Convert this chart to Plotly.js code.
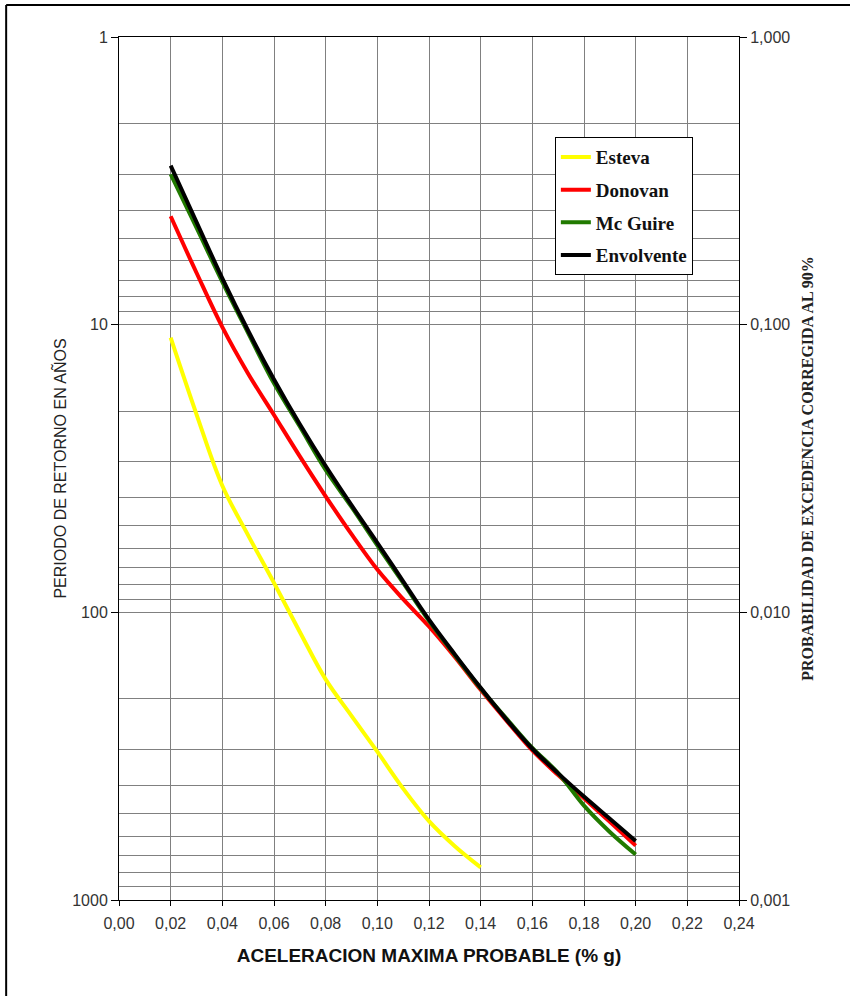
<!DOCTYPE html>
<html>
<head>
<meta charset="utf-8">
<script src="https://cdn.plot.ly/plotly-3.0.1.min.js"></script>
<style>html,body{margin:0;padding:0;background:#fff;}#chart{width:850px;height:996px;}</style>
</head>
<body>
<div id="chart"></div>
<script>
// Acceleration values (% g)
const accel = [0.02,0.03,0.04,0.05,0.06,0.07,0.08,0.09,0.10,0.11,0.12,0.13,0.14,0.15,0.16,0.17,0.18,0.19,0.20];
const accelEsteva = [0.02,0.03,0.04,0.05,0.06,0.07,0.08,0.09,0.10,0.11,0.12,0.13,0.14];

// Return period (years) per model
const esteva     = [11.1,20.5,36.3,54,79,117,171,229,305,410,532,650,770];
const donovan    = [4.2,6.6,10.2,14.8,20.6,28.7,39.5,53.5,71,90,112,143,186,238,302,368,443,535,647];
const mcguire    = [3.0,4.6,7.1,10.7,16.0,22.6,32,43,58.5,79,107,141,184,234,296,362,470,580,695];
const envolvente = [2.8,4.4,6.9,10.5,15.5,22.2,31,42.4,57.3,78,106,140,183,236,298,363,437,522,624];

const seriesNames = ["Esteva","Donovan","Mc Guire","Envolvente"];
const seriesColors = ["#ffff00","#ff0000","#217a00","#000000"];

// Axis ticks
const xTickVals = [0,0.02,0.04,0.06,0.08,0.10,0.12,0.14,0.16,0.18,0.20,0.22,0.24];
const xTickText = ["0,00","0,02","0,04","0,06","0,08","0,10","0,12","0,14","0,16","0,18","0,20","0,22","0,24"];
const yTickVals = [1,10,100,1000];
const yTickText = ["1","10","100","1000"];
const yMinorVals = [2,3,4,5,6,7,8,9,20,30,40,50,60,70,80,90,200,300,400,500,600,700,800,900];
const y2TickVals = [1,0.1,0.01,0.001];
const y2TickText = ["1,000","0,100","0,010","0,001"];

const xs = [accelEsteva, accel, accel, accel];
const ys = [esteva, donovan, mcguire, envolvente];

const traces = [{
  x: [0.24, 0.24], y: [y2TickVals[0], y2TickVals[3]], yaxis: 'y2', mode: 'lines',
  line: {width: 0, color: 'rgba(0,0,0,0)'}, showlegend: false, hoverinfo: 'skip'
}];
for (let i = 0; i < 4; i++) {
  traces.push({
    x: xs[i], y: ys[i], name: seriesNames[i], type: 'scatter', mode: 'lines',
    legendgroup: 'g' + i,
    line: {color: seriesColors[i], width: 4, shape: 'spline', smoothing: 1}
  });
}

const gridC = '#808080';
const tickFont = {family: 'Liberation Sans, Arial, sans-serif', size: 16, color: '#333'};

const layout = {
  width: 850, height: 996,
  margin: {l: 119, r: 111, t: 37, b: 96},
  paper_bgcolor: '#fff', plot_bgcolor: '#fff',
  showlegend: true,
  legend: {
    x: 0.703, y: 0.884, xanchor: 'left', yanchor: 'top',
    bgcolor: '#fff', bordercolor: '#000', borderwidth: 1,
    font: {family: 'Liberation Serif, Times New Roman, serif', size: 19, color: '#111', weight: 'bold'},
    tracegroupgap: 5, itemwidth: 30
  },
  xaxis: {
    range: [0, 0.24], tickmode: 'array', tickvals: xTickVals, ticktext: xTickText,
    showgrid: true, gridcolor: gridC, gridwidth: 1, zeroline: false,
    showline: true, linecolor: '#000', linewidth: 1, mirror: true,
    ticks: 'outside', ticklen: 5, tickcolor: '#000', ticklabelstandoff: 4,
    tickfont: tickFont, automargin: false,
    title: {text: 'ACELERACION MAXIMA PROBABLE (% g)', standoff: 17,
      font: {family: 'Liberation Sans, Arial, sans-serif', size: 19, color: '#111', weight: 'bold'}}
  },
  yaxis: {
    type: 'log', range: [3, 0], tickmode: 'array', tickvals: yTickVals, ticktext: yTickText,
    showgrid: true, gridcolor: gridC, gridwidth: 1, zeroline: false,
    showline: true, linecolor: '#000', linewidth: 1,
    ticks: 'outside', ticklen: 7, tickcolor: '#000',
    tickfont: tickFont, automargin: false,
    minor: {tickmode: 'array', tickvals: yMinorVals, showgrid: true, gridcolor: gridC, gridwidth: 1, ticks: ''},
    title: {text: 'PERIODO DE RETORNO EN AÑOS', standoff: 1,
      font: {family: 'Liberation Sans, Arial, sans-serif', size: 16, color: '#222'}}
  },
  yaxis2: {
    type: 'log', range: [-3, 0], overlaying: 'y', side: 'right',
    tickmode: 'array', tickvals: y2TickVals, ticktext: y2TickText,
    showgrid: false, zeroline: false,
    showline: true, linecolor: '#000', linewidth: 1,
    ticks: 'outside', ticklen: 7, tickcolor: '#000',
    tickfont: tickFont, automargin: false,
    title: {text: 'PROBABILIDAD DE EXCEDENCIA CORREGIDA AL 90%', standoff: 12,
      font: {family: 'Liberation Serif, Times New Roman, serif', size: 16, color: '#222', weight: 'bold'}}
  },
  shapes: [
    {type: 'line', xref: 'paper', yref: 'paper', x0: -0.182, x1: 1.2, y0: 1.037, y1: 1.037, line: {color: '#000', width: 2}},
    {type: 'line', xref: 'paper', yref: 'paper', x0: -0.182, x1: -0.182, y0: 1.037, y1: -0.12, line: {color: '#000', width: 2}}
  ]
};

Plotly.newPlot('chart', traces, layout, {displayModeBar: false, staticPlot: true});
</script>
</body>
</html>
